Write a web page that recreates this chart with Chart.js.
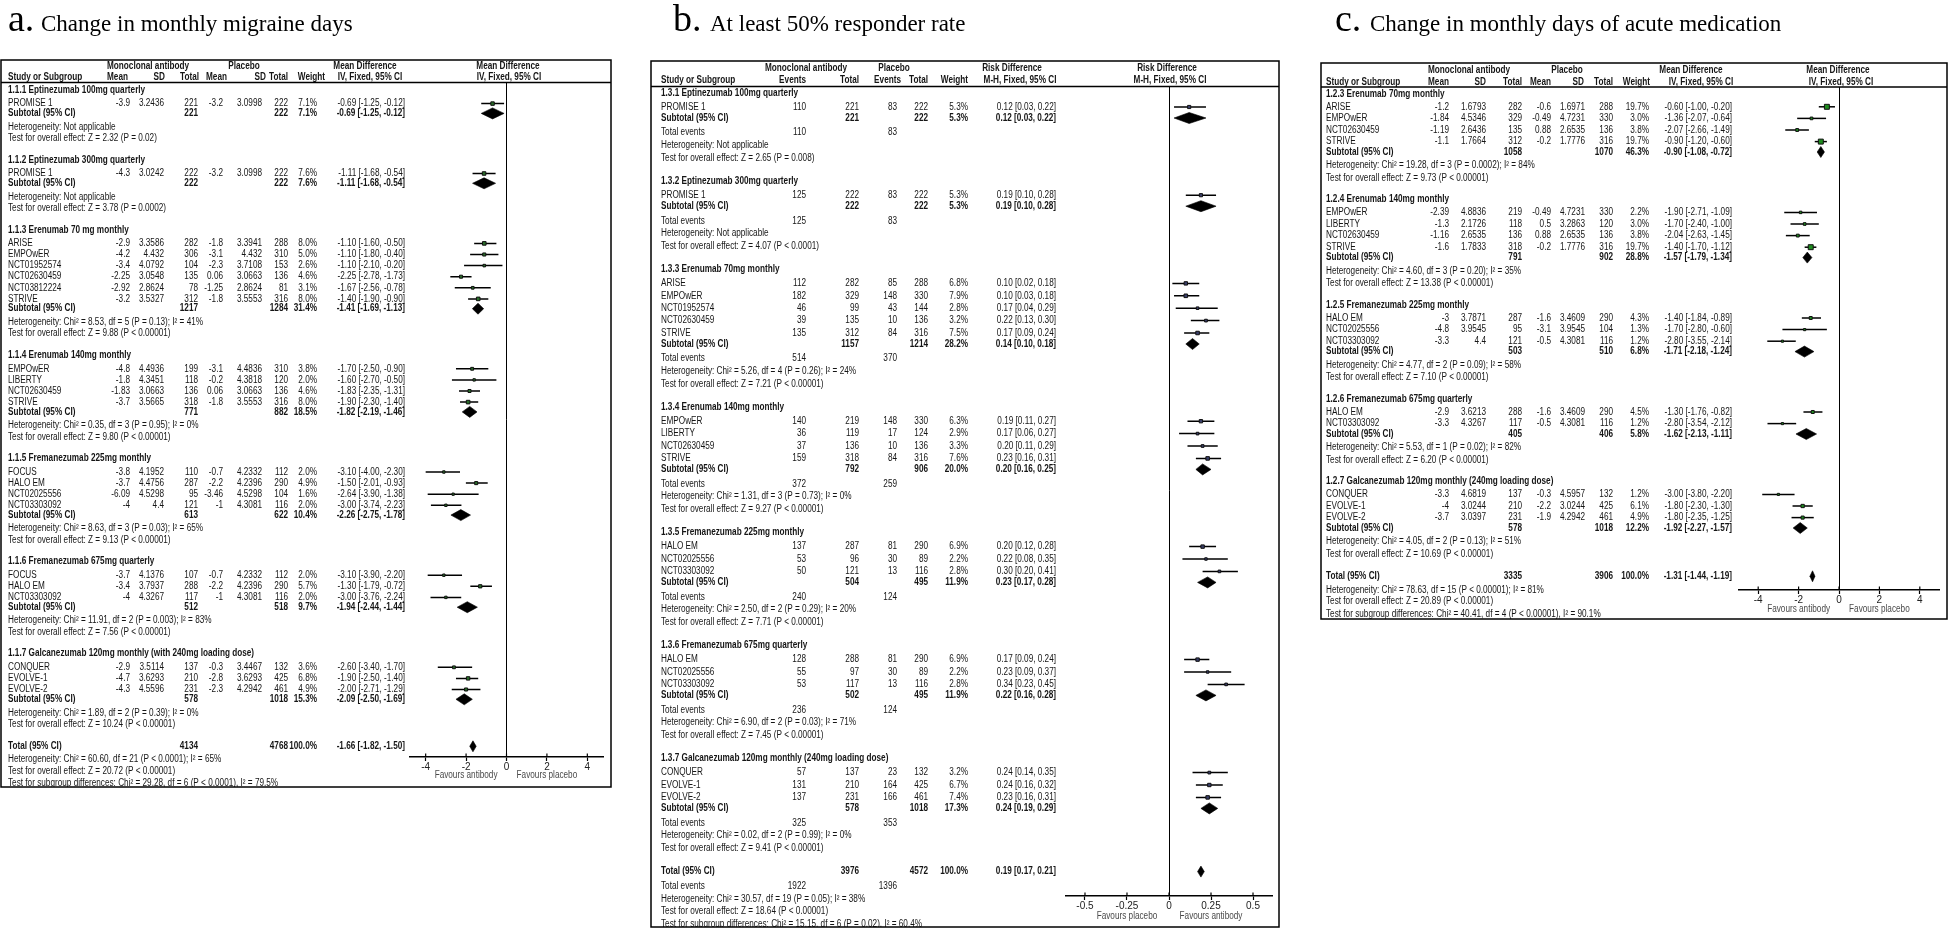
<!DOCTYPE html>
<html>
<head>
<meta charset="utf-8">
<script src="https://cdn.jsdelivr.net/npm/chart.js@4.4.1/dist/chart.umd.min.js"></script>
<style>
html, body { margin: 0; padding: 0; background: #fff; }
#lienzo { position: relative; width: 1952px; height: 929px; overflow: hidden; }
canvas { position: absolute; left: 0; top: 0; }
</style>
</head>
<body>
<div id="lienzo">
  <canvas id="grafica-a" width="1952" height="929"></canvas>
  <canvas id="grafica-b" width="1952" height="929"></canvas>
  <canvas id="grafica-c" width="1952" height="929"></canvas>
</div>
<script>
//? a. Change in monthly migraine days (mean difference)
const aGroups = ['1.1.1 Eptinezumab 100mg quarterly', '1.1.2 Eptinezumab 300mg quarterly', '1.1.3 Erenumab 70 mg monthly', '1.1.4 Erenumab 140mg monthly', '1.1.5 Fremanezumab 225mg monthly', '1.1.6 Fremanezumab 675mg quarterly', '1.1.7 Galcanezumab 120mg monthly (with 240mg loading dose)']
const aStudy = ['PROMISE 1', 'PROMISE 1', 'ARISE', 'EMPOwER', 'NCT01952574', 'NCT02630459', 'NCT03812224', 'STRIVE', 'EMPOwER', 'LIBERTY', 'NCT02630459', 'STRIVE', 'FOCUS', 'HALO EM', 'NCT02025556', 'NCT03303092', 'FOCUS', 'HALO EM', 'NCT03303092', 'CONQUER', 'EVOLVE-1', 'EVOLVE-2']
const aGroupOf = [0, 1, 2, 2, 2, 2, 2, 2, 3, 3, 3, 3, 4, 4, 4, 4, 5, 5, 5, 6, 6, 6]
const aMeanAb = [-3.9, -4.3, -2.9, -4.2, -3.4, -2.25, -2.92, -3.2, -4.8, -1.8, -1.83, -3.7, -3.8, -3.7, -6.09, -4, -3.7, -3.4, -4, -2.9, -4.7, -4.3]
const aSdAb = [3.2436, 3.0242, 3.3586, 4.432, 4.0792, 3.0548, 2.8624, 3.5327, 4.4936, 4.3451, 3.0663, 3.5665, 4.1952, 4.4756, 4.5298, 4.4, 4.1376, 3.7937, 4.3267, 3.5114, 3.6293, 4.5596]
const aNAb = [221, 222, 282, 306, 104, 135, 78, 312, 199, 118, 136, 318, 110, 287, 95, 121, 107, 288, 117, 137, 210, 231]
const aMeanPl = [-3.2, -3.2, -1.8, -3.1, -2.3, 0.06, -1.25, -1.8, -3.1, -0.2, 0.06, -1.8, -0.7, -2.2, -3.46, -1, -0.7, -2.2, -1, -0.3, -2.8, -2.3]
const aSdPl = [3.0998, 3.0998, 3.3941, 4.432, 3.7108, 3.0663, 2.8624, 3.5553, 4.4836, 4.3818, 3.0663, 3.5553, 4.2332, 4.2396, 4.5298, 4.3081, 4.2332, 4.2396, 4.3081, 3.4467, 3.6293, 4.2942]
const aNPl = [222, 222, 288, 310, 153, 136, 81, 316, 310, 120, 136, 316, 112, 290, 104, 116, 112, 290, 116, 132, 425, 461]
const aWeight = [7.1, 7.6, 8.0, 5.0, 2.6, 4.6, 3.1, 8.0, 3.8, 2.0, 4.6, 8.0, 2.0, 4.9, 1.6, 2.0, 2.0, 5.7, 2.0, 3.6, 6.8, 4.9]
const aMD = [-0.69, -1.11, -1.10, -1.10, -1.10, -2.25, -1.67, -1.40, -1.70, -1.60, -1.83, -1.90, -3.10, -1.50, -2.64, -3.00, -3.10, -1.30, -3.00, -2.60, -1.90, -2.00]
const aLo = [-1.25, -1.68, -1.60, -1.80, -2.10, -2.78, -2.56, -1.90, -2.50, -2.70, -2.35, -2.30, -4.00, -2.01, -3.90, -3.74, -3.90, -1.79, -3.76, -3.40, -2.50, -2.71]
const aHi = [-0.12, -0.54, -0.50, -0.40, -0.20, -1.73, -0.78, -0.90, -0.90, -0.50, -1.31, -1.40, -2.30, -0.93, -1.38, -2.23, -2.20, -0.72, -2.24, -1.70, -1.40, -1.29]
const aSubNAb = [221, 222, 1217, 771, 613, 512, 578]
const aSubNPl = [222, 222, 1284, 882, 622, 518, 1018]
const aSubWeight = [7.1, 7.6, 31.4, 18.5, 10.4, 9.7, 15.3]
const aSubMD = [-0.69, -1.11, -1.41, -1.82, -2.26, -1.94, -2.09]
const aSubLo = [-1.25, -1.68, -1.69, -2.19, -2.75, -2.44, -2.50]
const aSubHi = [-0.12, -0.54, -1.13, -1.46, -1.78, -1.44, -1.69]
const aHet = ['Not applicable', 'Not applicable', 'Chi² = 8.53, df = 5 (P = 0.13); I² = 41%', 'Chi² = 0.35, df = 3 (P = 0.95); I² = 0%', 'Chi² = 8.63, df = 3 (P = 0.03); I² = 65%', 'Chi² = 11.91, df = 2 (P = 0.003); I² = 83%', 'Chi² = 1.89, df = 2 (P = 0.39); I² = 0%']
const aEffect = ['Z = 2.32 (P = 0.02)', 'Z = 3.78 (P = 0.0002)', 'Z = 9.88 (P < 0.00001)', 'Z = 9.80 (P < 0.00001)', 'Z = 9.13 (P < 0.00001)', 'Z = 7.56 (P < 0.00001)', 'Z = 10.24 (P < 0.00001)']
const aTotal = [4134, 4768, 100.0, -1.66, -1.82, -1.50]
const aTotalText = ['Chi² = 60.60, df = 21 (P < 0.0001); I² = 65%', 'Z = 20.72 (P < 0.00001)', 'Chi² = 29.28, df = 6 (P < 0.0001), I² = 79.5%']
const aTicks = [-4, -2, 0, 2, 4]
const aFavours = ['Favours antibody', 'Favours placebo']

//? b. At least 50% responder rate (risk difference)
const bGroups = ['1.3.1 Eptinezumab 100mg quarterly', '1.3.2 Eptinezumab 300mg quarterly', '1.3.3 Erenumab 70mg monthly', '1.3.4 Erenumab 140mg monthly', '1.3.5 Fremanezumab 225mg monthly', '1.3.6 Fremanezumab 675mg quarterly', '1.3.7 Galcanezumab 120mg monthly (240mg loading dose)']
const bStudy = ['PROMISE 1', 'PROMISE 1', 'ARISE', 'EMPOwER', 'NCT01952574', 'NCT02630459', 'STRIVE', 'EMPOwER', 'LIBERTY', 'NCT02630459', 'STRIVE', 'HALO EM', 'NCT02025556', 'NCT03303092', 'HALO EM', 'NCT02025556', 'NCT03303092', 'CONQUER', 'EVOLVE-1', 'EVOLVE-2']
const bGroupOf = [0, 1, 2, 2, 2, 2, 2, 3, 3, 3, 3, 4, 4, 4, 5, 5, 5, 6, 6, 6]
const bEvAb = [110, 125, 112, 182, 46, 39, 135, 140, 36, 37, 159, 137, 53, 50, 128, 55, 53, 57, 131, 137]
const bNAb = [221, 222, 282, 329, 99, 135, 312, 219, 119, 136, 318, 287, 96, 121, 288, 97, 117, 137, 210, 231]
const bEvPl = [83, 83, 85, 148, 43, 10, 84, 148, 17, 10, 84, 81, 30, 13, 81, 30, 13, 23, 164, 166]
const bNPl = [222, 222, 288, 330, 144, 136, 316, 330, 124, 136, 316, 290, 89, 116, 290, 89, 116, 132, 425, 461]
const bWeight = [5.3, 5.3, 6.8, 7.9, 2.8, 3.2, 7.5, 6.3, 2.9, 3.3, 7.6, 6.9, 2.2, 2.8, 6.9, 2.2, 2.8, 3.2, 6.7, 7.4]
const bRD = [0.12, 0.19, 0.10, 0.10, 0.17, 0.22, 0.17, 0.19, 0.17, 0.20, 0.23, 0.20, 0.22, 0.30, 0.17, 0.23, 0.34, 0.24, 0.24, 0.23]
const bLo = [0.03, 0.10, 0.02, 0.03, 0.04, 0.13, 0.09, 0.11, 0.06, 0.11, 0.16, 0.12, 0.08, 0.20, 0.09, 0.09, 0.23, 0.14, 0.16, 0.16]
const bHi = [0.22, 0.28, 0.18, 0.18, 0.29, 0.30, 0.24, 0.27, 0.27, 0.29, 0.31, 0.28, 0.35, 0.41, 0.24, 0.37, 0.45, 0.35, 0.32, 0.31]
const bSubNAb = [221, 222, 1157, 792, 504, 502, 578]
const bSubNPl = [222, 222, 1214, 906, 495, 495, 1018]
const bSubEvAb = [110, 125, 514, 372, 240, 236, 325]
const bSubEvPl = [83, 83, 370, 259, 124, 124, 353]
const bSubWeight = [5.3, 5.3, 28.2, 20.0, 11.9, 11.9, 17.3]
const bSubRD = [0.12, 0.19, 0.14, 0.20, 0.23, 0.22, 0.24]
const bSubLo = [0.03, 0.10, 0.10, 0.16, 0.17, 0.16, 0.19]
const bSubHi = [0.22, 0.28, 0.18, 0.25, 0.28, 0.28, 0.29]
const bHet = ['Not applicable', 'Not applicable', 'Chi² = 5.26, df = 4 (P = 0.26); I² = 24%', 'Chi² = 1.31, df = 3 (P = 0.73); I² = 0%', 'Chi² = 2.50, df = 2 (P = 0.29); I² = 20%', 'Chi² = 6.90, df = 2 (P = 0.03); I² = 71%', 'Chi² = 0.02, df = 2 (P = 0.99); I² = 0%']
const bEffect = ['Z = 2.65 (P = 0.008)', 'Z = 4.07 (P < 0.0001)', 'Z = 7.21 (P < 0.00001)', 'Z = 9.27 (P < 0.00001)', 'Z = 7.71 (P < 0.00001)', 'Z = 7.45 (P < 0.00001)', 'Z = 9.41 (P < 0.00001)']
const bTotal = [3976, 4572, 100.0, 0.19, 0.17, 0.21]
const bTotalEvents = [1922, 1396]
const bTotalText = ['Chi² = 30.57, df = 19 (P = 0.05); I² = 38%', 'Z = 18.64 (P < 0.00001)', 'Chi² = 15.15, df = 6 (P = 0.02), I² = 60.4%']
const bTicks = [-0.5, -0.25, 0, 0.25, 0.5]
const bFavours = ['Favours placebo', 'Favours antibody']

//? c. Change in monthly days of acute medication (mean difference)
const cGroups = ['1.2.3 Erenumab 70mg monthly', '1.2.4 Erenumab 140mg monthly', '1.2.5 Fremanezumab 225mg monthly', '1.2.6 Fremanezumab 675mg quarterly', '1.2.7 Galcanezumab 120mg monthly (240mg loading dose)']
const cStudy = ['ARISE', 'EMPOwER', 'NCT02630459', 'STRIVE', 'EMPOwER', 'LIBERTY', 'NCT02630459', 'STRIVE', 'HALO EM', 'NCT02025556', 'NCT03303092', 'HALO EM', 'NCT03303092', 'CONQUER', 'EVOLVE-1', 'EVOLVE-2']
const cGroupOf = [0, 0, 0, 0, 1, 1, 1, 1, 2, 2, 2, 3, 3, 4, 4, 4]
const cMeanAb = [-1.2, -1.84, -1.19, -1.1, -2.39, -1.3, -1.16, -1.6, -3, -4.8, -3.3, -2.9, -3.3, -3.3, -4, -3.7]
const cSdAb = [1.6793, 4.5346, 2.6436, 1.7664, 4.8836, 2.1726, 2.6535, 1.7833, 3.7871, 3.9545, 4.4, 3.6213, 4.3267, 4.6819, 3.0244, 3.0397]
const cNAb = [282, 329, 135, 312, 219, 118, 136, 318, 287, 95, 121, 288, 117, 137, 210, 231]
const cMeanPl = [-0.6, -0.49, 0.88, -0.2, -0.49, 0.5, 0.88, -0.2, -1.6, -3.1, -0.5, -1.6, -0.5, -0.3, -2.2, -1.9]
const cSdPl = [1.6971, 4.7231, 2.6535, 1.7776, 4.7231, 3.2863, 2.6535, 1.7776, 3.4609, 3.9545, 4.3081, 3.4609, 4.3081, 4.5957, 3.0244, 4.2942]
const cNPl = [288, 330, 136, 316, 330, 120, 136, 316, 290, 104, 116, 290, 116, 132, 425, 461]
const cWeight = [19.7, 3.0, 3.8, 19.7, 2.2, 3.0, 3.8, 19.7, 4.3, 1.3, 1.2, 4.5, 1.2, 1.2, 6.1, 4.9]
const cMD = [-0.60, -1.36, -2.07, -0.90, -1.90, -1.70, -2.04, -1.40, -1.40, -1.70, -2.80, -1.30, -2.80, -3.00, -1.80, -1.80]
const cLo = [-1.00, -2.07, -2.66, -1.20, -2.71, -2.40, -2.63, -1.70, -1.84, -2.80, -3.55, -1.76, -3.54, -3.80, -2.30, -2.35]
const cHi = [-0.20, -0.64, -1.49, -0.60, -1.09, -1.00, -1.45, -1.12, -0.89, -0.60, -2.14, -0.82, -2.12, -2.20, -1.30, -1.25]
const cSubNAb = [1058, 791, 503, 405, 578]
const cSubNPl = [1070, 902, 510, 406, 1018]
const cSubWeight = [46.3, 28.8, 6.8, 5.8, 12.2]
const cSubMD = [-0.90, -1.57, -1.71, -1.62, -1.92]
const cSubLo = [-1.08, -1.79, -2.18, -2.13, -2.27]
const cSubHi = [-0.72, -1.34, -1.24, -1.11, -1.57]
const cHet = ['Chi² = 19.28, df = 3 (P = 0.0002); I² = 84%', 'Chi² = 4.60, df = 3 (P = 0.20); I² = 35%', 'Chi² = 4.77, df = 2 (P = 0.09); I² = 58%', 'Chi² = 5.53, df = 1 (P = 0.02); I² = 82%', 'Chi² = 4.05, df = 2 (P = 0.13); I² = 51%']
const cEffect = ['Z = 9.73 (P < 0.00001)', 'Z = 13.38 (P < 0.00001)', 'Z = 7.10 (P < 0.00001)', 'Z = 6.20 (P < 0.00001)', 'Z = 10.69 (P < 0.00001)']
const cTotal = [3335, 3906, 100.0, -1.31, -1.44, -1.19]
const cTotalText = ['Chi² = 78.63, df = 15 (P < 0.00001); I² = 81%', 'Z = 20.89 (P < 0.00001)', 'Chi² = 40.41, df = 4 (P < 0.00001), I² = 90.1%']
const cTicks = [-4, -2, 0, 2, 4]
const cFavours = ['Favours antibody', 'Favours placebo']

const SANS = "'Liberation Sans', Arial, sans-serif"
const SERIF = "'Liberation Serif', 'Times New Roman', serif"
const NARROW = 0.82
const W = 1952, H = 929, XH = 20, DH = 5.5

//? Row positions of the table (vertical layout, in page pixels)
function buildRows(nGroups, groupOf, sp, events) {
    const r = { groupY: [], studyY: [], subY: [], evY: [], hetY: [], testY: [] }
    let y = sp.start
    for (let g = 0; g < nGroups; g++) {
        if (g > 0) y += sp.test2g
        r.groupY.push(y)
        y += sp.g2s
        let first = true
        groupOf.forEach((gg, i) => {
            if (gg !== g) return
            if (!first) y += sp.s
            first = false
            r.studyY[i] = y
        })
        y += sp.s2sub
        r.subY.push(y)
        if (events) { y += sp.sub2ev; r.evY.push(y); y += sp.ev2het } else y += sp.sub2het
        r.hetY.push(y)
        y += sp.het2test
        r.testY.push(y)
    }
    y += sp.test2tot; r.totY = y
    if (events) { y += sp.tot2ev; r.totEvY = y; y += sp.ev2het } else y += sp.tot2het
    r.totHetY = y
    y += sp.het2test2; r.totTestY = y
    y += sp.test2sg; r.sgY = y
    return r
}

function put(ctx, s, x, y, align, bold, color) {
    ctx.save()
    ctx.translate(x, y)
    ctx.scale(NARROW, 1)
    ctx.font = (bold ? 'bold ' : '') + '10px ' + SANS
    ctx.textAlign = align || 'left'
    ctx.textBaseline = 'middle'
    ctx.fillStyle = color || '#151515'
    ctx.fillText(String(s), 0, 0)
    ctx.restore()
}

const ciTxt = (m, lo, hi) => m.toFixed(2) + ' [' + lo.toFixed(2) + ', ' + hi.toFixed(2) + ']'
const pct = w => w.toFixed(1) + '%'

function forest(id, P, L) {
    const events = P.kind === 'rd'
    const R = buildRows(P.groups.length, P.groupOf, L.sp, events)
    const side = w => 1.2 + 0.85 * Math.sqrt(w)
    const datasets = []

    // confidence intervals
    P.lo.forEach((lo, i) => datasets.push({
        data: [{ x: lo, y: R.studyY[i] }, { x: P.hi[i], y: R.studyY[i] }],
        showLine: true, borderColor: '#000', borderWidth: 1.5, pointRadius: 0, order: 3
    }))
    // point estimates
    datasets.push({
        data: P.est.map((v, i) => ({ x: v, y: R.studyY[i] })),
        pointStyle: 'rect', pointRadius: P.weight.map(w => side(w) / Math.SQRT2),
        backgroundColor: L.square, borderColor: '#111', borderWidth: 1, order: 1
    })
    // pooled diamonds
    const diamond = (m, lo, hi, y) => ({
        data: [{ x: lo, y: y }, { x: m, y: y - DH }, { x: hi, y: y }, { x: m, y: y + DH }, { x: lo, y: y }],
        showLine: true, fill: 'shape', tension: 0, backgroundColor: '#000', borderColor: '#000',
        borderWidth: 0.6, pointRadius: 0, order: 2
    })
    P.subEst.forEach((m, g) => datasets.push(diamond(m, P.subLo[g], P.subHi[g], R.subY[g])))
    datasets.push(diamond(P.total[3], P.total[4], P.total[5], R.totY))

    const tabla = {
        id: 'tabla',
        afterDraw(chart) {
            const ctx = chart.ctx
            const xs = chart.scales.x
            const C = L.col
            const [bl, bt, br, bb] = L.box

            ctx.save()
            ctx.fillStyle = '#000'
            ctx.textBaseline = 'alphabetic'
            ctx.textAlign = 'left'
            ctx.font = '38px ' + SERIF
            ctx.fillText(L.title[0], L.titleX[0], 31)
            ctx.font = '23px ' + SERIF
            ctx.fillText(L.title[1], L.titleX[1], 31)
            ctx.restore()

            ctx.save()
            ctx.beginPath()
            ctx.rect(bl, bt, br - bl, bb - bt)
            ctx.clip()
            L.head.forEach(h => put(ctx, h[0], h[1], h[3] === 1 ? L.head1 : L.head2, h[2], true))

            P.study.forEach((s, i) => {
                const y = R.studyY[i]
                put(ctx, s, C.name, y, 'left')
                P.cols.forEach(c => put(ctx, c[0][i], C[c[1]], y, 'right'))
                put(ctx, pct(P.weight[i]), C.w, y, 'right')
                put(ctx, ciTxt(P.est[i], P.lo[i], P.hi[i]), C.ci, y, 'right')
            })
            P.groups.forEach((g, k) => {
                put(ctx, g, C.name, R.groupY[k], 'left', true)
                const y = R.subY[k]
                put(ctx, 'Subtotal (95% CI)', C.name, y, 'left', true)
                put(ctx, P.subNAb[k], C.c3, y, 'right', true)
                put(ctx, P.subNPl[k], C.c6, y, 'right', true)
                put(ctx, pct(P.subWeight[k]), C.w, y, 'right', true)
                put(ctx, ciTxt(P.subEst[k], P.subLo[k], P.subHi[k]), C.ci, y, 'right', true)
                if (events) {
                    put(ctx, 'Total events', C.name, R.evY[k], 'left')
                    put(ctx, P.subEvAb[k], C.c1, R.evY[k], 'right')
                    put(ctx, P.subEvPl[k], C.c4, R.evY[k], 'right')
                }
                put(ctx, 'Heterogeneity: ' + P.het[k], C.name, R.hetY[k], 'left')
                put(ctx, 'Test for overall effect: ' + P.effect[k], C.name, R.testY[k], 'left')
            })
            const T = P.total
            put(ctx, 'Total (95% CI)', C.name, R.totY, 'left', true)
            put(ctx, T[0], C.c3, R.totY, 'right', true)
            put(ctx, T[1], C.c6, R.totY, 'right', true)
            put(ctx, pct(T[2]), C.w, R.totY, 'right', true)
            put(ctx, ciTxt(T[3], T[4], T[5]), C.ci, R.totY, 'right', true)
            if (events) {
                put(ctx, 'Total events', C.name, R.totEvY, 'left')
                put(ctx, P.totalEvents[0], C.c1, R.totEvY, 'right')
                put(ctx, P.totalEvents[1], C.c4, R.totEvY, 'right')
            }
            put(ctx, 'Heterogeneity: ' + P.totalText[0], C.name, R.totHetY, 'left')
            put(ctx, 'Test for overall effect: ' + P.totalText[1], C.name, R.totTestY, 'left')
            put(ctx, 'Test for subgroup differences: ' + P.totalText[2], C.name, R.sgY, 'left')

            // favours labels, centred on half of the outer tick
            const half = P.ticks[P.ticks.length - 1] / 2
            put(ctx, P.favours[0], xs.getPixelForValue(-half), L.favY, 'center', false, '#4a4a4a')
            put(ctx, P.favours[1], xs.getPixelForValue(half), L.favY, 'center', false, '#4a4a4a')
            ctx.restore()

            // upper half of the tick marks
            ctx.save()
            ctx.strokeStyle = '#000'
            ctx.lineWidth = 1.2
            xs.ticks.forEach(t => {
                const px = xs.getPixelForValue(t.value)
                ctx.beginPath()
                ctx.moveTo(px, L.axisY - 3.5)
                ctx.lineTo(px, L.axisY)
                ctx.stroke()
            })
            // frame and header rule
            ctx.lineWidth = 1.5
            ctx.strokeRect(bl, bt, br - bl, bb - bt)
            ctx.beginPath()
            ctx.moveTo(bl, L.line)
            ctx.lineTo(br, L.line)
            ctx.stroke()
            ctx.restore()
        }
    }

    return new Chart(document.getElementById(id), {
        type: 'scatter',
        data: { datasets: datasets },
        options: {
            responsive: false,
            animation: false,
            devicePixelRatio: 1,
            events: [],
            layout: { padding: { left: L.plot[0], right: W - L.plot[1], top: L.line, bottom: H - L.axisY - XH } },
            plugins: { legend: { display: false }, tooltip: { enabled: false } },
            scales: {
                x: {
                    type: 'linear',
                    min: L.range[0],
                    max: L.range[1],
                    afterBuildTicks: s => { s.ticks = P.ticks.map(v => ({ value: v })) },
                    afterFit: s => { s.height = XH },
                    grid: {
                        drawOnChartArea: true,
                        color: c => (c.tick && c.tick.value === 0 ? '#000' : 'rgba(0,0,0,0)'),
                        lineWidth: 1,
                        tickLength: 4,
                        tickColor: '#000',
                        tickWidth: 1.2
                    },
                    border: { display: true, color: '#000', width: 1.5 },
                    ticks: {
                        padding: 0,
                        maxRotation: 0,
                        autoSkip: false,
                        color: '#222',
                        font: { family: SANS, size: 10 },
                        callback: v => String(v)
                    }
                },
                y: { type: 'linear', display: false, reverse: true, min: L.line, max: L.axisY }
            }
        },
        plugins: [tabla]
    })
}

const grafA = forest('grafica-a', {
    kind: 'md', groups: aGroups, groupOf: aGroupOf, study: aStudy,
    cols: [[aMeanAb, 'c1'], [aSdAb, 'c2'], [aNAb, 'c3'], [aMeanPl, 'c4'], [aSdPl, 'c5'], [aNPl, 'c6']],
    weight: aWeight, est: aMD, lo: aLo, hi: aHi,
    subNAb: aSubNAb, subNPl: aSubNPl, subWeight: aSubWeight, subEst: aSubMD, subLo: aSubLo, subHi: aSubHi,
    het: aHet, effect: aEffect, total: aTotal, totalText: aTotalText, ticks: aTicks, favours: aFavours
}, {
    title: ['a.', 'Change in monthly migraine days'], titleX: [8, 41],
    box: [1, 60, 611, 787], head1: 66.5, head2: 77.5, line: 82.5, axisY: 757, favY: 775,
    plot: [409.5, 603.5], range: [-4.8, 4.8], square: '#2a6e2a',
    col: { name: 8, c1: 130, c2: 164, c3: 198, c4: 223, c5: 262, c6: 288, w: 317, ci: 405 },
    head: [
        ['Monoclonal antibody', 148, 'center', 1], ['Placebo', 244, 'center', 1], ['Mean Difference', 365, 'center', 1], ['Mean Difference', 508, 'center', 1],
        ['Study or Subgroup', 8, 'left', 2], ['Mean', 128, 'right', 2], ['SD', 165, 'right', 2], ['Total', 199, 'right', 2], ['Mean', 227, 'right', 2],
        ['SD', 266, 'right', 2], ['Total', 288, 'right', 2], ['Weight', 325, 'right', 2], ['IV, Fixed, 95% CI', 370, 'center', 2], ['IV, Fixed, 95% CI', 509, 'center', 2]
    ],
    sp: { start: 90, g2s: 13.6, s: 11.1, s2sub: 9.8, sub2het: 13.5, het2test: 11.5, test2g: 21.5, test2tot: 22, tot2het: 13, het2test2: 12, test2sg: 12 }
})

const grafB = forest('grafica-b', {
    kind: 'rd', groups: bGroups, groupOf: bGroupOf, study: bStudy,
    cols: [[bEvAb, 'c1'], [bNAb, 'c3'], [bEvPl, 'c4'], [bNPl, 'c6']],
    weight: bWeight, est: bRD, lo: bLo, hi: bHi,
    subNAb: bSubNAb, subNPl: bSubNPl, subEvAb: bSubEvAb, subEvPl: bSubEvPl, subWeight: bSubWeight, subEst: bSubRD, subLo: bSubLo, subHi: bSubHi,
    het: bHet, effect: bEffect, total: bTotal, totalEvents: bTotalEvents, totalText: bTotalText, ticks: bTicks, favours: bFavours
}, {
    title: ['b.', 'At least 50% responder rate'], titleX: [673, 710],
    box: [651, 61, 1279, 927], head1: 68, head2: 80.5, line: 86.5, axisY: 896, favY: 916,
    plot: [1066, 1272], range: [-0.613, 0.613], square: '#3a3f6a',
    col: { name: 661, c1: 806, c3: 859, c4: 897, c6: 928, w: 968, ci: 1056 },
    head: [
        ['Monoclonal antibody', 806, 'center', 1], ['Placebo', 894, 'center', 1], ['Risk Difference', 1012, 'center', 1], ['Risk Difference', 1167, 'center', 1],
        ['Study or Subgroup', 661, 'left', 2], ['Events', 806, 'right', 2], ['Total', 859, 'right', 2], ['Events', 901, 'right', 2], ['Total', 928, 'right', 2],
        ['Weight', 968, 'right', 2], ['M-H, Fixed, 95% CI', 1020, 'center', 2], ['M-H, Fixed, 95% CI', 1170, 'center', 2]
    ],
    sp: { start: 93, g2s: 14, s: 12.4, s2sub: 11, sub2ev: 14.7, ev2het: 12.5, het2test: 13, test2g: 23, test2tot: 23, tot2ev: 15, het2test2: 12.5, test2sg: 13 }
})

const grafC = forest('grafica-c', {
    kind: 'md', groups: cGroups, groupOf: cGroupOf, study: cStudy,
    cols: [[cMeanAb, 'c1'], [cSdAb, 'c2'], [cNAb, 'c3'], [cMeanPl, 'c4'], [cSdPl, 'c5'], [cNPl, 'c6']],
    weight: cWeight, est: cMD, lo: cLo, hi: cHi,
    subNAb: cSubNAb, subNPl: cSubNPl, subWeight: cSubWeight, subEst: cSubMD, subLo: cSubLo, subHi: cSubHi,
    het: cHet, effect: cEffect, total: cTotal, totalText: cTotalText, ticks: cTicks, favours: cFavours
}, {
    title: ['c.', 'Change in monthly days of acute medication'], titleX: [1335, 1370],
    box: [1321, 63, 1947, 619], head1: 70, head2: 82, line: 87, axisY: 590, favY: 609,
    plot: [1739, 1939], range: [-4.95, 4.95], square: '#1e8c1e',
    col: { name: 1326, c1: 1449, c2: 1486, c3: 1522, c4: 1551, c5: 1585, c6: 1613, w: 1649, ci: 1732 },
    head: [
        ['Monoclonal antibody', 1469, 'center', 1], ['Placebo', 1567, 'center', 1], ['Mean Difference', 1691, 'center', 1], ['Mean Difference', 1838, 'center', 1],
        ['Study or Subgroup', 1326, 'left', 2], ['Mean', 1449, 'right', 2], ['SD', 1486, 'right', 2], ['Total', 1522, 'right', 2], ['Mean', 1551, 'right', 2],
        ['SD', 1584, 'right', 2], ['Total', 1613, 'right', 2], ['Weight', 1650, 'right', 2], ['IV, Fixed, 95% CI', 1701, 'center', 2], ['IV, Fixed, 95% CI', 1841, 'center', 2]
    ],
    sp: { start: 94, g2s: 12.8, s: 11.6, s2sub: 10.4, sub2het: 13.6, het2test: 12.2, test2g: 21.8, test2tot: 22.5, tot2het: 14, het2test2: 11.3, test2sg: 13 }
})
</script>
</body>
</html>
